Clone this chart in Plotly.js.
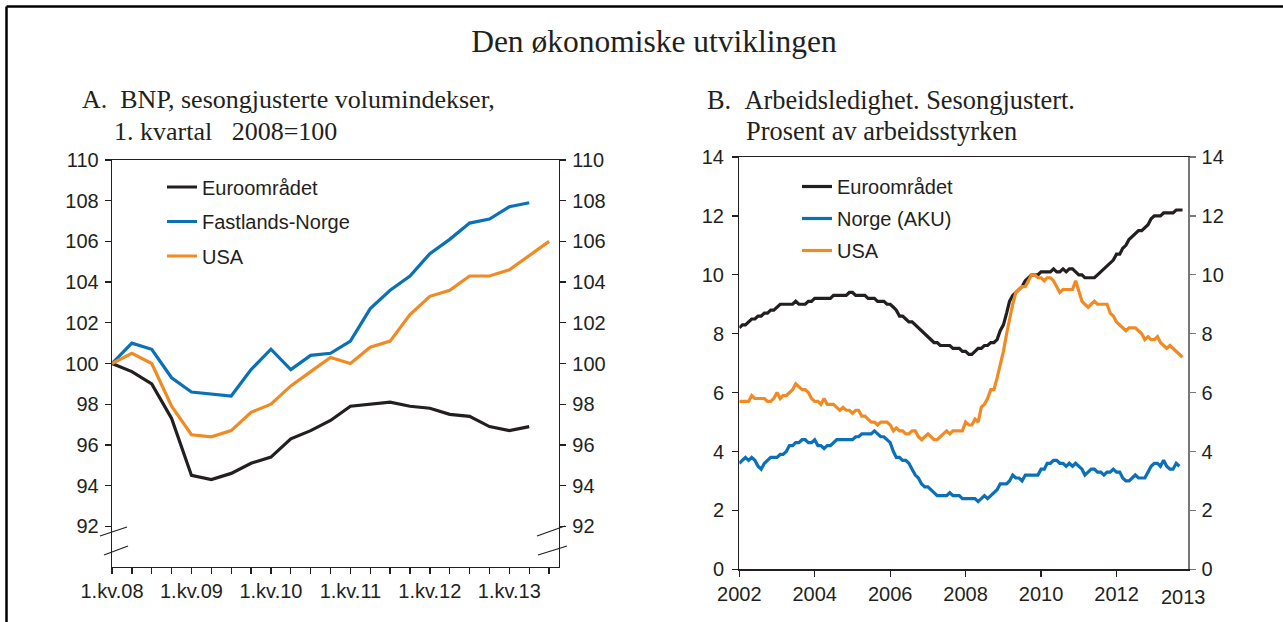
<!DOCTYPE html>
<html>
<head>
<meta charset="utf-8">
<script src="https://cdn.plot.ly/plotly-3.0.1.min.js"></script>
<style>
html,body{margin:0;padding:0;background:#fff;}
#chart{width:1283px;height:622px;}
</style>
</head>
<body>
<div id="chart"></div>
<script>
// ---------- Panel A: BNP, quarterly, 1. kvartal 2008 = 100 ----------
const quarters = ['1.kv.08','2.kv.08','3.kv.08','4.kv.08','1.kv.09','2.kv.09','3.kv.09','4.kv.09',
  '1.kv.10','2.kv.10','3.kv.10','4.kv.10','1.kv.11','2.kv.11','3.kv.11','4.kv.11',
  '1.kv.12','2.kv.12','3.kv.12','4.kv.12','1.kv.13','2.kv.13','3.kv.13'];
const quarterTickLabels = ['1.kv.08','1.kv.09','1.kv.10','1.kv.11','1.kv.12','1.kv.13'];
const bnpEuro = [100.0,99.6,99.0,97.3,94.5,94.3,94.6,95.1,95.4,96.3,96.7,97.2,97.9,98.0,98.1,97.9,97.8,97.5,97.4,96.9,96.7,96.9];
const bnpNorge = [100.0,101.0,100.7,99.3,98.6,98.5,98.4,99.7,100.7,99.7,100.4,100.5,101.1,102.7,103.6,104.3,105.4,106.1,106.9,107.1,107.7,107.9];
const bnpUSA = [100.0,100.5,100.0,97.9,96.5,96.4,96.7,97.6,98.0,98.9,99.6,100.3,100.0,100.8,101.1,102.4,103.3,103.6,104.3,104.3,104.6,105.3,106.0];
const bnpTicks = [92,94,96,98,100,102,104,106,108,110];

// ---------- Panel B: Arbeidsledighet, monthly from Jan 2002 ----------
const ledigStart = {year: 2002, month: 1};
const ledigEuro = [
  8.2,8.3,8.3,8.4,8.5,8.5,8.6,8.6,8.7,8.7,8.8,8.8,
  8.9,9.0,9.0,9.0,9.0,9.0,9.1,9.0,9.0,9.0,9.1,9.1,
  9.2,9.2,9.2,9.2,9.2,9.2,9.3,9.3,9.3,9.3,9.3,9.4,
  9.4,9.3,9.3,9.3,9.3,9.2,9.2,9.2,9.1,9.1,9.1,9.0,
  9.0,8.9,8.8,8.6,8.6,8.5,8.4,8.4,8.3,8.2,8.1,8.0,
  7.9,7.8,7.7,7.7,7.6,7.6,7.6,7.6,7.5,7.5,7.5,7.4,
  7.4,7.3,7.3,7.4,7.5,7.5,7.6,7.6,7.7,7.7,7.8,8.1,
  8.3,8.7,9.1,9.3,9.4,9.5,9.6,9.8,9.9,10.0,10.0,10.0,
  10.1,10.1,10.1,10.1,10.2,10.1,10.1,10.2,10.1,10.2,10.2,10.1,
  10.0,10.0,9.9,9.9,9.9,9.9,10.0,10.1,10.2,10.3,10.4,10.5,
  10.7,10.7,10.9,11.0,11.2,11.3,11.4,11.5,11.5,11.6,11.7,11.9,
  12.0,12.0,12.0,12.1,12.1,12.1,12.1,12.2,12.2,12.2];
const ledigNorge = [
  3.6,3.7,3.8,3.7,3.8,3.7,3.5,3.4,3.6,3.7,3.8,3.8,
  3.8,3.9,3.9,4.0,4.2,4.2,4.3,4.3,4.4,4.4,4.3,4.3,
  4.4,4.2,4.2,4.1,4.2,4.2,4.3,4.4,4.4,4.4,4.4,4.4,
  4.4,4.5,4.5,4.6,4.6,4.6,4.6,4.7,4.6,4.5,4.5,4.4,
  4.3,4.0,3.8,3.8,3.7,3.7,3.6,3.4,3.2,3.1,2.9,2.8,
  2.8,2.7,2.6,2.5,2.5,2.5,2.5,2.6,2.5,2.5,2.5,2.4,
  2.4,2.4,2.4,2.4,2.3,2.4,2.5,2.4,2.5,2.6,2.7,2.9,
  2.9,2.9,3.0,3.2,3.1,3.1,3.0,3.2,3.2,3.2,3.2,3.2,
  3.4,3.4,3.6,3.6,3.7,3.7,3.6,3.6,3.5,3.6,3.5,3.6,
  3.5,3.4,3.2,3.3,3.4,3.4,3.3,3.3,3.2,3.3,3.3,3.4,
  3.3,3.3,3.1,3.0,3.0,3.1,3.2,3.1,3.1,3.1,3.3,3.5,
  3.6,3.6,3.5,3.7,3.5,3.4,3.4,3.6,3.5];
const ledigUSA = [
  5.7,5.7,5.7,5.7,5.9,5.8,5.8,5.8,5.8,5.7,5.7,5.8,
  6.0,5.8,5.9,5.9,6.0,6.1,6.3,6.2,6.1,6.1,6.0,5.8,
  5.7,5.7,5.6,5.8,5.6,5.6,5.6,5.5,5.4,5.5,5.4,5.4,
  5.3,5.4,5.4,5.2,5.2,5.1,5.0,5.0,4.9,5.0,5.0,5.0,
  4.9,4.7,4.8,4.7,4.7,4.6,4.6,4.7,4.7,4.5,4.4,4.5,
  4.6,4.5,4.4,4.4,4.5,4.6,4.7,4.6,4.7,4.7,4.7,4.7,
  5.0,4.9,4.9,5.1,5.0,5.5,5.6,5.8,6.1,6.1,6.5,6.9,
  7.4,8.0,8.5,9.0,9.4,9.5,9.6,9.6,9.8,10.0,10.0,9.9,
  9.9,9.8,9.9,9.9,9.8,9.6,9.4,9.5,9.5,9.5,9.5,9.8,
  9.4,9.1,9.0,8.9,9.0,9.1,9.0,9.0,9.0,9.0,8.7,8.6,
  8.4,8.3,8.2,8.1,8.2,8.2,8.2,8.1,8.0,7.8,7.9,7.8,
  7.8,7.9,7.7,7.6,7.5,7.6,7.5,7.4,7.3,7.2];
const ledigTicks = [0,2,4,6,8,10,12,14];
const yearTicks = ['2002-01-01','2004-01-01','2006-01-01','2008-01-01','2010-01-01','2012-01-01'];
const yearLabels = ['2002','2004','2006','2008','2010','2012'];

// ---------- helpers ----------
function monthDates(n){
  const out = [];
  for (let i = 0; i < n; i++){
    const y = ledigStart.year + Math.floor((ledigStart.month - 1 + i) / 12);
    const m = ((ledigStart.month - 1 + i) % 12) + 1;
    out.push(y + '-' + String(m).padStart(2,'0') + '-01');
  }
  return out;
}

const W = 1283, H = 622;
const px = v => v / W;
const py = v => 1 - v / H;

const BLACK = '#231f20', BLUE = '#0a70b8', ORANGE = '#f28a24';
const SANS = 'Liberation Sans, Arial, sans-serif';
const SERIF = 'Liberation Serif, Times New Roman, serif';
const LW = 3.2;

const traces = [
  {x: quarters.slice(0, bnpEuro.length), y: bnpEuro, name: 'Euroområdet', type: 'scatter', mode: 'lines',
   line: {color: BLACK, width: LW}, xaxis: 'x', yaxis: 'y', legend: 'legend', legendgroup: 'a1'},
  {x: quarters.slice(0, bnpNorge.length), y: bnpNorge, name: 'Fastlands-Norge', type: 'scatter', mode: 'lines',
   line: {color: BLUE, width: LW}, xaxis: 'x', yaxis: 'y', legend: 'legend', legendgroup: 'a2'},
  {x: quarters.slice(0, bnpUSA.length), y: bnpUSA, name: 'USA', type: 'scatter', mode: 'lines',
   line: {color: ORANGE, width: LW}, xaxis: 'x', yaxis: 'y', legend: 'legend', legendgroup: 'a3'},
  {x: quarters.slice(0, bnpUSA.length), y: bnpUSA, mode: 'none', type: 'scatter', showlegend: false,
   hoverinfo: 'skip', xaxis: 'x', yaxis: 'y2'},
  {x: monthDates(ledigEuro.length), y: ledigEuro, name: 'Euroområdet', type: 'scatter', mode: 'lines',
   line: {color: BLACK, width: LW}, xaxis: 'x2', yaxis: 'y3', legend: 'legend2', legendgroup: 'b1'},
  {x: monthDates(ledigNorge.length), y: ledigNorge, name: 'Norge (AKU)', type: 'scatter', mode: 'lines',
   line: {color: BLUE, width: LW}, xaxis: 'x2', yaxis: 'y3', legend: 'legend2', legendgroup: 'b2'},
  {x: monthDates(ledigUSA.length), y: ledigUSA, name: 'USA', type: 'scatter', mode: 'lines',
   line: {color: ORANGE, width: LW}, xaxis: 'x2', yaxis: 'y3', legend: 'legend2', legendgroup: 'b3'},
  {x: monthDates(ledigUSA.length), y: ledigUSA, mode: 'none', type: 'scatter', showlegend: false,
   hoverinfo: 'skip', xaxis: 'x2', yaxis: 'y4'}
];

const axisBase = {
  showgrid: false, zeroline: false, showline: true, linecolor: BLACK, linewidth: 1.3,
  ticks: 'outside', ticklen: 6, tickwidth: 1.3, tickcolor: BLACK,
  tickfont: {family: SANS, size: 20, color: BLACK}, fixedrange: true
};

const A_dom_x = [px(112), px(559)];
const A_dom_y = [py(567), py(160)];
const B_dom_x = [px(739.3), px(1188.3)];
const B_dom_y = [py(569.3), py(157)];

const quarterTickVals = quarters.slice();
const quarterTickText = quarters.map(q => quarterTickLabels.includes(q) ? q : '');

const layout = {
  width: W, height: H,
  margin: {l: 0, r: 0, t: 0, b: 0},
  paper_bgcolor: '#fff', plot_bgcolor: 'rgba(0,0,0,0)',
  showlegend: true,
  title: {text: 'Den økonomiske utviklingen', font: {family: SERIF, size: 31.5, color: BLACK},
          x: px(654), xanchor: 'center', y: py(41), yanchor: 'middle', xref: 'paper', yref: 'paper'},
  xaxis: Object.assign({}, axisBase, {domain: A_dom_x, anchor: 'y', type: 'category',
    range: [0, 22.5], tickvals: quarterTickVals, ticktext: quarterTickText, mirror: true}),
  yaxis: Object.assign({}, axisBase, {domain: A_dom_y, anchor: 'x', range: [90, 110],
    tickvals: bnpTicks, ticklabelstandoff: 2}),
  yaxis2: Object.assign({}, axisBase, {domain: A_dom_y, anchor: 'x', overlaying: 'y', side: 'right',
    range: [90, 110], tickvals: bnpTicks, ticklabelstandoff: 2}),
  xaxis2: Object.assign({}, axisBase, {domain: B_dom_x, anchor: 'y3', type: 'date',
    range: ['2002-01-01', '2013-11-26'], tickvals: yearTicks, ticktext: yearLabels, mirror: true}),
  yaxis3: Object.assign({}, axisBase, {domain: B_dom_y, anchor: 'x2', range: [0, 14],
    tickvals: ledigTicks, ticklabelstandoff: 4}),
  yaxis4: Object.assign({}, axisBase, {domain: B_dom_y, anchor: 'x2', overlaying: 'y3', side: 'right',
    range: [0, 14], tickvals: ledigTicks, linecolor: '#777', tickcolor: '#777', ticklabelstandoff: 2}),
  legend: {x: px(162), y: py(167.5), xanchor: 'left', yanchor: 'top', bgcolor: 'rgba(0,0,0,0)',
    font: {family: SANS, size: 20, color: BLACK}, traceorder: 'grouped', tracegroupgap: 5.5},
  legend2: {x: px(797), y: py(167), xanchor: 'left', yanchor: 'top', bgcolor: 'rgba(0,0,0,0)',
    font: {family: SANS, size: 20, color: BLACK}, traceorder: 'grouped', tracegroupgap: 3},
  annotations: [
    {text: 'A.\u00a0\u00a0BNP, sesongjusterte volumindekser,', xref: 'paper', yref: 'paper',
     x: px(80), y: py(100), xanchor: 'left', yanchor: 'middle', showarrow: false,
     font: {family: SERIF, size: 26, color: BLACK}},
    {text: '1. kvartal\u00a0\u00a0\u00a02008=100', xref: 'paper', yref: 'paper',
     x: px(112), y: py(131), xanchor: 'left', yanchor: 'middle', showarrow: false,
     font: {family: SERIF, size: 26, color: BLACK}},
    {text: 'B.\u00a0\u00a0Arbeidsledighet. Sesongjustert.', xref: 'paper', yref: 'paper',
     x: px(705), y: py(100), xanchor: 'left', yanchor: 'middle', showarrow: false,
     font: {family: SERIF, size: 26.4, color: BLACK}},
    {text: 'Prosent av arbeidsstyrken', xref: 'paper', yref: 'paper',
     x: px(744), y: py(131), xanchor: 'left', yanchor: 'middle', showarrow: false,
     font: {family: SERIF, size: 26.4, color: BLACK}},
    {text: '2013', xref: 'paper', yref: 'paper', x: px(1183), y: py(597),
     xanchor: 'center', yanchor: 'middle', showarrow: false,
     font: {family: SANS, size: 20, color: BLACK}}
  ],
  shapes: [
    // frame
    {type: 'line', xref: 'paper', yref: 'paper', x0: px(6.5), x1: 1, y0: py(6.5), y1: py(6.5), line: {color: '#000', width: 2.5}},
    {type: 'line', xref: 'paper', yref: 'paper', x0: px(6.5), x1: px(6.5), y0: py(6.5), y1: 0, line: {color: '#000', width: 2.5}},
    // axis break marks, panel A
    {type: 'line', xref: 'paper', yref: 'paper', x0: px(100), x1: px(127), y0: py(536), y1: py(527), line: {color: BLACK, width: 1.3}},
    {type: 'line', xref: 'paper', yref: 'paper', x0: px(104), x1: px(128), y0: py(555), y1: py(546), line: {color: BLACK, width: 1.3}},
    {type: 'line', xref: 'paper', yref: 'paper', x0: px(537), x1: px(565), y0: py(536), y1: py(526), line: {color: BLACK, width: 1.3}},
    {type: 'line', xref: 'paper', yref: 'paper', x0: px(538), x1: px(567), y0: py(555), y1: py(546), line: {color: BLACK, width: 1.3}}
  ]
};

Plotly.newPlot('chart', traces, layout, {staticPlot: true, displayModeBar: false});
</script>
</body>
</html>
